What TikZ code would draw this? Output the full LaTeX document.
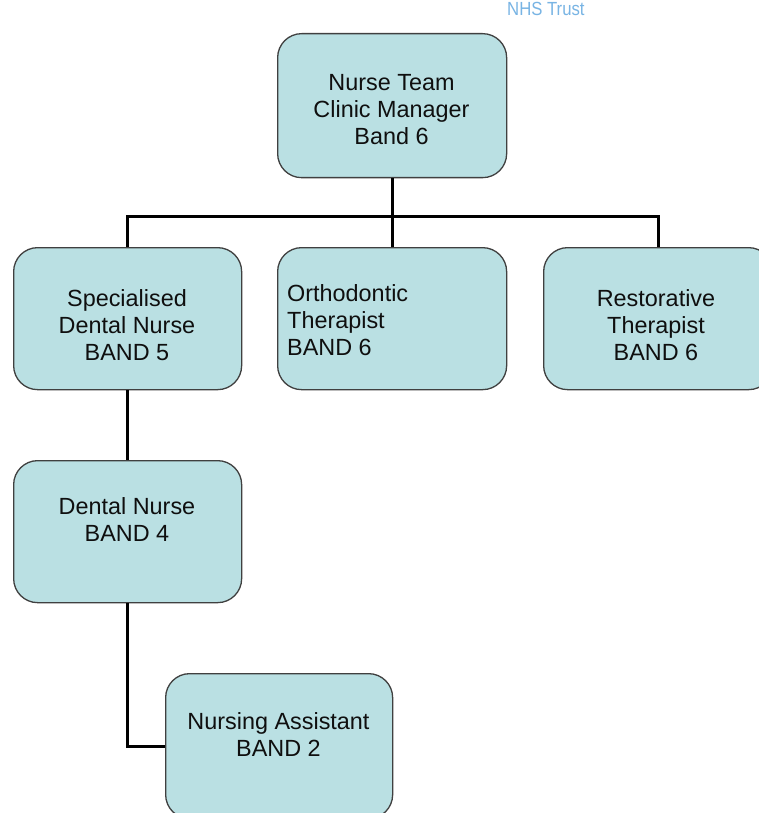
\documentclass[tikz,border=0pt]{standalone}
\usepackage{fontspec}
\setmainfont{Liberation Sans}
\definecolor{boxfill}{RGB}{186,224,227}
\definecolor{boxline}{RGB}{64,64,64}
\definecolor{nhsblue}{RGB}{120,180,228}
\definecolor{txtcol}{RGB}{15,15,15}
\tikzset{
  box/.style={draw=boxline, line width=1.3pt, fill=boxfill, rounded corners=24pt, anchor=north west, inner sep=0pt},
  txt/.style={text=txtcol, align=center, font=\fontsize{23.4}{27}\selectfont, inner sep=0pt},
  conn/.style={line width=3pt, black}
}
\begin{document}
\begin{tikzpicture}[x=1pt,y=-1pt]
\useasboundingbox (0,0) rectangle (759,813);
\clip (0,0) rectangle (759,813);
\fill[white] (0,0) rectangle (759,813);
\node[anchor=base west, text=nhsblue, font=\fontsize{19}{21}\selectfont, inner sep=0pt, xscale=0.88, transform shape] (nhs) at (507,15.5) {NHS Trust};
% boxes
\node[box, minimum width=229pt, minimum height=144pt] (top) at (277,33) {};
\node[box, minimum width=228pt, minimum height=142pt] (spec) at (13,247) {};
\node[box, minimum width=229pt, minimum height=142pt] (orth) at (277,247) {};
\node[box, minimum width=229pt, minimum height=142pt] (rest) at (543,247) {};
\node[box, minimum width=228pt, minimum height=142pt] (dn) at (13,460) {};
\node[box, minimum width=227pt, minimum height=145pt] (na) at (165,673) {};
% connectors
\coordinate (bus) at (0,216);
\draw[conn] (top.south) -- (top.south |- bus);
\draw[conn, line cap=rect] (spec.north |- bus) -- (rest.north |- bus);
\draw[conn] (spec.north |- bus) -- (spec.north);
\draw[conn] (orth.north |- bus) -- (orth.north);
\draw[conn] (rest.north |- bus) -- (rest.north);
\draw[conn] (spec.south) -- (dn.north);
\draw[conn] (dn.south) |- (na.west);
% texts
\node[txt] (ttop) at (391.5,110) {Nurse Team\\Clinic Manager\\Band 6};
\node[txt] (tspec) at (127,325) {Specialised\\Dental Nurse\\BAND 5};
\node[txt, align=left, anchor=west] (torth) at (287,320) {Orthodontic\\Therapist\\BAND 6};
\node[txt] (trest) at (656,325) {Restorative\\Therapist\\BAND 6};
\node[txt] (tdn) at (127,520) {Dental Nurse\\BAND 4};
\node[txt] (tna) at (278.5,735) {Nursing Assistant\\BAND 2};
\end{tikzpicture}
\end{document}
